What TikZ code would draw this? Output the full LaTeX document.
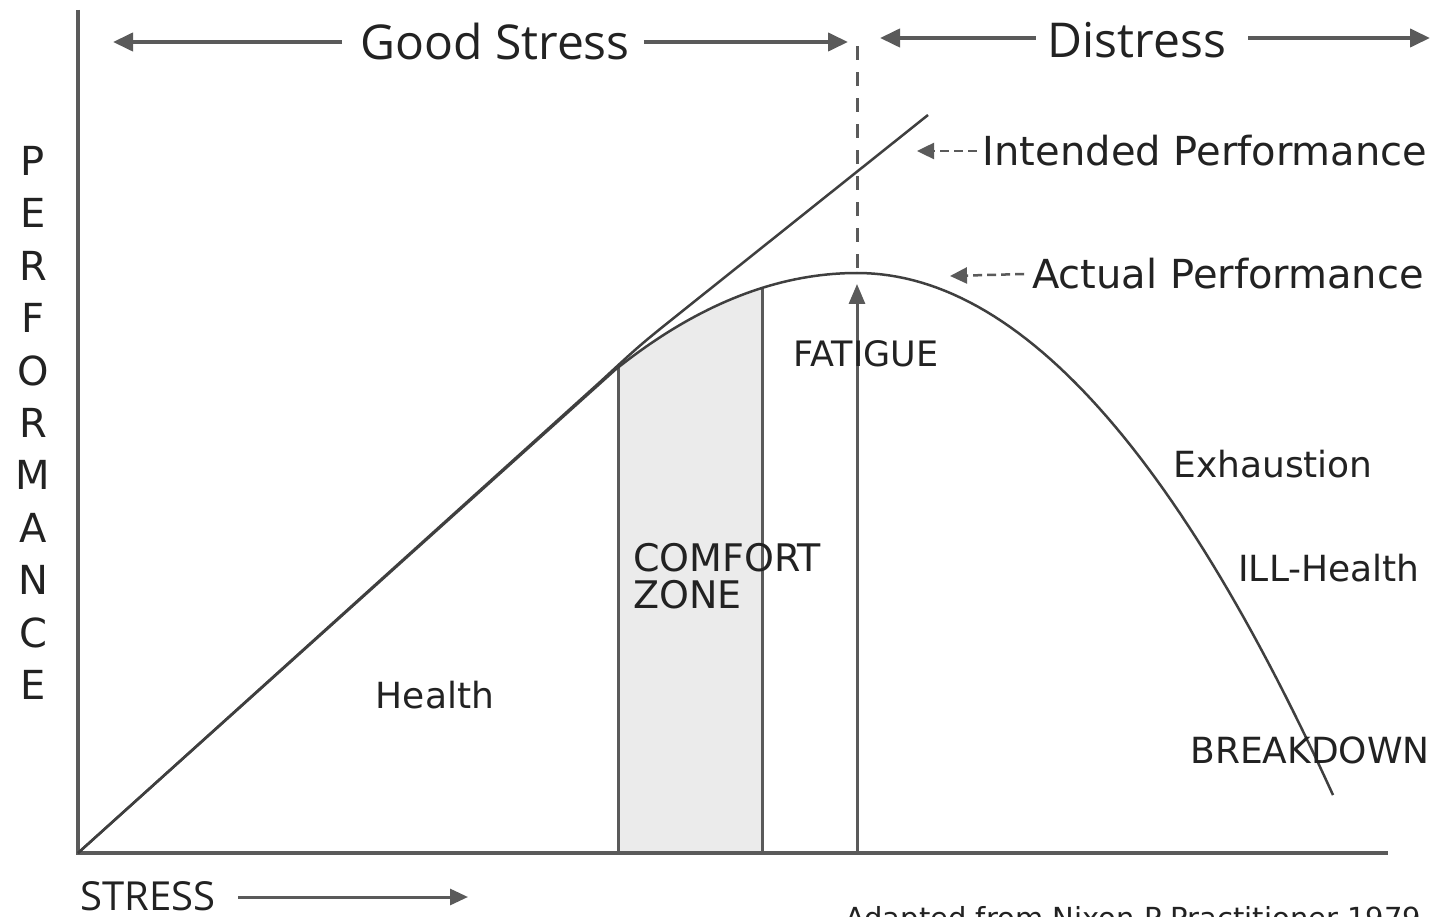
\documentclass[tikz,border=0pt]{standalone}
\usepackage{fontspec}
\setmainfont{DejaVu Sans}
\newfontfamily\osans{Open Sans}
\usetikzlibrary{arrows.meta}
\definecolor{txt}{HTML}{222222}
\definecolor{ln}{HTML}{5A5A5A}
\definecolor{cv}{HTML}{3F3F3F}
\definecolor{zonefill}{HTML}{EBEBEB}
\begin{document}
\begin{tikzpicture}[x=1pt,y=-1pt,
  axisline/.style={draw=ln, line width=3.5pt},
  curveline/.style={draw=cv, line width=2.5pt},
  zoneline/.style={draw=ln, line width=3pt},
  bigarrow/.style={draw=ln, line width=4pt, -{Triangle[length=20pt,width=18pt]}},
  dasharrow/.style={draw=ln, line width=2.5pt, dash pattern=on 9pt off 5pt, -{Triangle[length=17pt,width=16pt]}},
  lbl/.style={text=txt, inner sep=0pt, font=\fontsize{36}{40}\selectfont},
  perf/.style={text=txt, inner sep=0pt, font=\fontsize{40}{44}\selectfont},
  head/.style={text=txt, inner sep=0pt, font=\osans\fontsize{48}{52}\selectfont},
  ]
\fill[white] (0,0) rectangle (1438,917);
\useasboundingbox (0,0) rectangle (1438,917);

% coordinates
\coordinate (O) at (78,853);
\coordinate (Ytop) at (78,10);
\coordinate (Xend) at (1388,853);
\coordinate (Ia) at (600,382);
\coordinate (Ib) at (640,345);
\coordinate (Ic) at (680,313);
\coordinate (Iend) at (928,115);
\coordinate (J) at (615,370);
\coordinate (Peak) at (857,273);

% comfort zone fill
\fill[zonefill] (618,853) -- (618,367.6)
  -- plot[domain=618:762, samples=30] (\x, {273+16.56*((\x-857)/100)^2})
  -- (762,853) -- cycle;
\draw[zoneline] (618,853) -- (618,368);
\draw[zoneline] (762,853) -- (762,288);

% axes
\draw[axisline] (Ytop) -- (O) -- (Xend);

% intended performance
\draw[curveline] (O) -- (Ia) .. controls (Ib) .. (Ic) -- (Iend);
% actual performance
\draw[curveline] (O) -- (J)
  -- plot[domain=615:857, samples=40] (\x, {273+16.56*((\x-857)/100)^2})
  -- plot[domain=857:1333, samples=60] (\x, {273+23.04*((\x-857)/100)^2});

% fatigue line
\coordinate (Fbot) at (857,853);
\coordinate (Ftip) at (857,284);
\draw[draw=ln, line width=3pt, -{Triangle[length=20pt,width=16pt]}] (Fbot) -- (Ftip);
\coordinate (Dtop) at (857,45);
\coordinate (Dbot) at (857,268);
\draw[draw=ln, line width=3pt, dash pattern=on 14pt off 12pt] (Dbot) -- (Dtop);

% top labels
\node[head] (gs) at (495,42) {Good Stress};
\coordinate (gsL) at (113,42);
\coordinate (gsR) at (848,42);
\draw[bigarrow] ([xshift=-18pt]gs.west) -- (gsL);
\draw[bigarrow] ([xshift=14pt]gs.east) -- (gsR);
\node[head] (ds) at (1137,40) {Distress};
\coordinate (dsL) at (880,38);
\coordinate (dsR) at (1430,38);
\draw[bigarrow] ([xshift=-12pt,yshift=2pt]ds.west) -- (dsL);
\draw[bigarrow] ([xshift=22pt,yshift=2pt]ds.east) -- (dsR);

% curve labels
\node[perf] (ip) at (1205,151) {Intended Performance};
\coordinate (ipT) at (917,151);
\draw[dasharrow] ([xshift=-6pt]ip.west) -- (ipT);
\node[perf] (ap) at (1228,274) {Actual Performance};
\coordinate (apT) at (950,276);
\draw[dasharrow] ([xshift=-8pt]ap.west) -- (apT);

% inner labels
\node[lbl, font=\fontsize{35}{38}\selectfont] (fat) at (866,354) {FATIGUE};
\node[lbl, font=\fontsize{38}{40}\selectfont, anchor=west] (cz1) at (633,558) {COMFORT};
\node[lbl, font=\fontsize{38}{40}\selectfont, anchor=west] (cz2) at (633,595) {ZONE};
\node[lbl] (hl) at (435,695) {Health};
\node[lbl] (ex) at (1273,464) {Exhaustion};
\node[lbl] (ill) at (1329,568) {ILL-Health};
\node[lbl] (bd) at (1310,750) {BREAKDOWN};

% vertical axis label
\foreach \l [count=\i from 0] in {P,E,R,F,O,R,M,A,N,C,E}
  \node[perf] (pf\i) at (33,{161+52.4*\i}) {\l};

% x axis label
\node[head, font=\osans\fontsize{40}{44}\selectfont, anchor=west] (st) at (80,896) {STRESS};
\coordinate (stA) at (238,897);
\coordinate (stB) at (468,897);
\draw[draw=ln, line width=3pt, -{Triangle[length=18pt,width=16pt]}] (stA) -- (stB);

% source (cut off at bottom, as in the reference)
\node[lbl, font=\fontsize{29}{32}\selectfont, anchor=base west] (src) at (845,928) {Adapted from Nixon P Practitioner 1979};
\end{tikzpicture}
\end{document}
